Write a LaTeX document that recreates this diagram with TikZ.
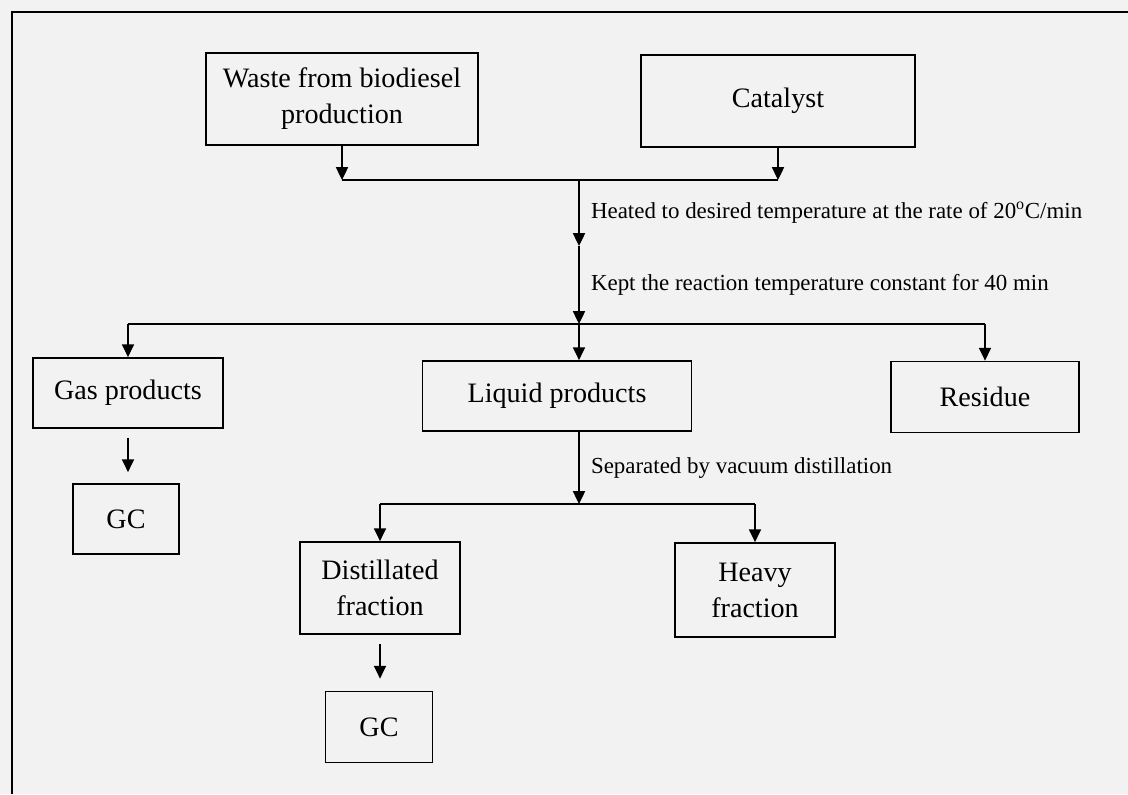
\documentclass[tikz,border=0pt]{standalone}
\usepackage{fontspec}
\setmainfont{Liberation Serif}
\usetikzlibrary{arrows.meta}

\begin{document}
\begin{tikzpicture}[x=0.025cm,y=-0.025cm,->,>={Triangle[width=0.3cm,length=0.32cm]},
                    line width=1.2pt]
  \tikzstyle{box}=[draw=black,rectangle,align=center,inner sep=0pt,
                   font=\fontsize{20}{25.5}\selectfont]
  \tikzstyle{lbl}=[anchor=west,inner sep=0pt,xshift=0.28cm,
                   font=\fontsize{16.3}{19}\selectfont]

  \fill[black!5] (0,0) rectangle (1128,794);
  \useasboundingbox (0,0) rectangle (1128,794);
  \draw[-] (12,794) -- (12,12) -- (1128,12);

  \node[box,minimum width=6.8cm,minimum height=2.3cm]    (waste)   at (342,99)  {Waste from biodiesel\\production};
  \node[box,minimum width=6.85cm,minimum height=2.3cm]   (cat)     at (778,101) {Catalyst};
  \node[box,minimum width=4.75cm,minimum height=1.75cm]  (gas)     at (128,393) {Gas products};
  \node[box,minimum width=6.725cm,minimum height=1.75cm] (liquid)  at (557,396) {Liquid products};
  \node[box,minimum width=4.7cm,minimum height=1.775cm]  (residue) at (985,397) {Residue};
  \node[box,minimum width=2.65cm,minimum height=1.75cm]  (gcgas)   at (126,519) {GC};
  \node[box,minimum width=4cm,minimum height=2.3cm]      (distil)  at (380,588) {Distillated\\fraction};
  \node[box,minimum width=4cm,minimum height=2.35cm]     (heavy)   at (755,590) {Heavy\\fraction};
  \node[box,minimum width=2.675cm,minimum height=1.775cm] (gcdist) at (379,727) {GC};

  \coordinate (mix)   at (579,180);
  \coordinate (heat)  at (579,246);
  \coordinate (split) at (579,324);
  \coordinate (sep)   at (579,504);

  % feed and catalyst
  \draw (waste.south) -- (waste.south |- mix);
  \draw (cat.south) -- (cat.south |- mix);
  \draw[-] (waste.south |- mix) -- (cat.south |- mix);
  \draw (mix) -- node[lbl] {Heated to desired temperature at the rate of 20\textsuperscript{o}C/min} (heat);
  \draw (heat) -- node[lbl] {Kept the reaction temperature constant for 40 min} (split);

  % products
  \draw[-] (gas.north |- split) -- (residue.north |- split);
  \draw (gas.north |- split) -- (gas.north);
  \draw (split) -- (split |- liquid.north);
  \draw (residue.north |- split) -- (residue.north);
  \draw[shorten <=0.225cm,shorten >=0.275cm] (gas.south) -- (gas.south |- gcgas.north);

  % distillation
  \draw (split |- liquid.south) -- node[lbl] {Separated by vacuum distillation} (sep);
  \draw[-] (distil.north |- sep) -- (heavy.north |- sep);
  \draw (distil.north |- sep) -- (distil.north);
  \draw (heavy.north |- sep) -- (heavy.north);
  \draw[shorten <=0.225cm,shorten >=0.3cm] (distil.south) -- (distil.south |- gcdist.north);
\end{tikzpicture}
\end{document}
